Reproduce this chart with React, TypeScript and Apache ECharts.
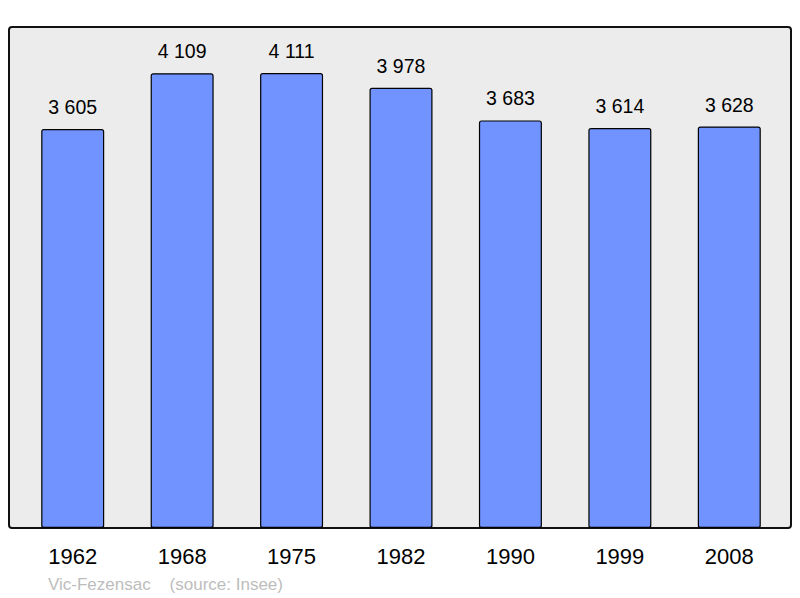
import React, { useEffect, useRef } from "react";
import * as echarts from "echarts";

const years = ["1962", "1968", "1975", "1982", "1990", "1999", "2008"];
const population = [3605, 4109, 4111, 3978, 3683, 3614, 3628];

const fmt = (v: number) => {
  const s = String(v);
  return s.length > 3 ? s.slice(0, s.length - 3) + " " + s.slice(-3) : s;
};

export default function App() {
  const ref = useRef<HTMLDivElement>(null);
  useEffect(() => {
    if (!ref.current) return;
    const chart = echarts.init(ref.current, undefined, { renderer: "svg" });
    chart.setOption({
      animation: false,
      backgroundColor: "#ffffff",
      textStyle: { fontFamily: "Liberation Sans, Arial, sans-serif" },
      graphic: [
        {
          type: "rect",
          shape: { x: 9, y: 27, width: 782, height: 501, r: 3 },
          style: { fill: "#ececec", stroke: "#111111", lineWidth: 2 },
          z: -10,
        },
        {
          type: "text",
          x: 48,
          y: 584,
          style: {
            text: "Vic-Fezensac    (source: Insee)",
            fill: "#bdbdbd",
            font: "17px Liberation Sans, Arial, sans-serif",
            textVerticalAlign: "middle",
          },
        },
      ],
      grid: { left: 18, right: 16, top: 30, bottom: 70 },
      xAxis: {
        type: "category",
        data: years,
        axisLine: { show: false },
        axisTick: { show: false },
        axisLabel: {
          color: "#000000",
          fontSize: 22,
          margin: 17,
          fontFamily: "Liberation Sans, Arial, sans-serif",
        },
      },
      yAxis: {
        type: "value",
        min: 0,
        max: 4500,
        show: false,
        splitLine: { show: false },
      },
      series: [
        {
          type: "bar",
          data: population,
          barWidth: 63,
          itemStyle: {
            color: "#7093ff",
            borderColor: "#000000",
            borderWidth: 1.2,
            borderRadius: 2,
          },
          label: {
            show: true,
            position: "top",
            distance: 12,
            color: "#000000",
            fontSize: 19.5,
            fontFamily: "Liberation Sans, Arial, sans-serif",
            formatter: (p: any) => fmt(p.value),
          },
        },
      ],
    });
    return () => chart.dispose();
  }, []);
  return <div ref={ref} style={{ width: 800, height: 598, position: "absolute", left: 0, top: 0 }} />;
}
